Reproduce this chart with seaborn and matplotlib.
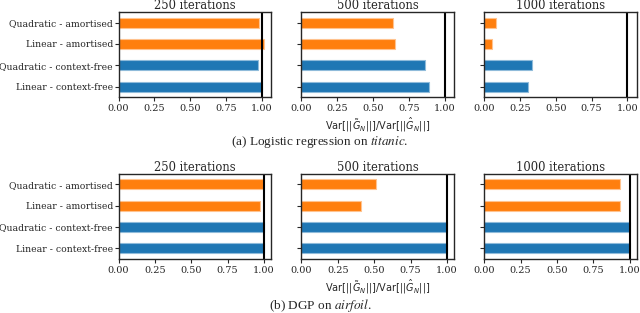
import matplotlib
matplotlib.use("Agg")
import matplotlib.pyplot as plt
import numpy as np
import pandas as pd
import seaborn as sns

methods = [
    "Quadratic - amortised",
    "Linear - amortised",
    "Quadratic - context-free",
    "Linear - context-free",
]
iterations = ["250 iterations", "500 iterations", "1000 iterations"]

# (a) logistic regression on titanic, one list per panel (top to bottom)
titanic_250 = [0.98, 1.016, 0.974, 1.0]
titanic_500 = [0.64, 0.657, 0.865, 0.888]
titanic_1000 = [0.084, 0.058, 0.337, 0.304]

# (b) DGP on airfoil
airfoil_250 = [0.993, 0.97, 1.0, 1.0]
airfoil_500 = [0.515, 0.41, 1.0, 1.0]
airfoil_1000 = [0.936, 0.93, 1.0, 1.0]

captions = ["(a) Logistic regression on ", "(b) DGP on "]
datasets = ["titanic", "airfoil"]
xticks = [0.0, 0.25, 0.5, 0.75, 1.0]

BLUE = "#1f77b4"
ORANGE = "#ff7f0e"
palette = {
    methods[0]: ORANGE,
    methods[1]: ORANGE,
    methods[2]: BLUE,
    methods[3]: BLUE,
}
edge_palette = ["#ffc38f", "#ffc38f", "#8fbbda", "#8fbbda"]

sns.set_style("ticks")
plt.rcParams["font.family"] = ["DejaVu Serif"]
plt.rcParams["axes.linewidth"] = 1.0

rows = [
    [titanic_250, titanic_500, titanic_1000],
    [airfoil_250, airfoil_500, airfoil_1000],
]
row_xmax = [1.067, 1.05]

fig, axes = plt.subplots(2, 3, figsize=(6.4, 3.13), dpi=100)
fig.subplots_adjust(left=118.5 / 640, right=637 / 640, top=1 - 12 / 313,
                    bottom=1 - 259 / 313, wspace=0.196, hspace=0.9)

for r, row in enumerate(rows):
    for c, values in enumerate(row):
        ax = axes[r, c]
        df = pd.DataFrame({"method": methods, "ratio": values})
        sns.barplot(data=df, x="ratio", y="method", hue="method", order=methods,
                    hue_order=methods, palette=palette, legend=False, width=0.47,
                    orient="h", ax=ax, linewidth=0.8, saturation=1)
        for patch, ec in zip(ax.patches, edge_palette):
            patch.set_edgecolor(ec)
        ax.axvline(1.0, color="black", lw=1.5)
        ax.set_xlim(0, row_xmax[r])
        ax.set_xticks(xticks)
        ax.set_xticklabels([f"{t:.2f}" for t in xticks], fontsize=7)
        ax.set_ylabel("")
        ax.set_xlabel("")
        ax.set_title(iterations[c], fontsize=8.3, pad=1)
        ax.tick_params(axis="y", labelsize=6.7, length=3, pad=1)
        ax.tick_params(axis="x", length=3, pad=2)
        if c > 0:
            ax.set_yticklabels([])
        if c == 1:
            ax.set_xlabel(r"Var[$||\tilde{G}_N||$]/Var[$||\hat{G}_N||$]",
                          fontsize=7, family="DejaVu Sans", labelpad=2)

for r, (cap, name) in enumerate(zip(captions, datasets)):
    y = 1 - (142 if r == 0 else 305) / 313
    fig.text(0.5, y, cap + r"$\mathit{" + name + r"}$.", ha="center", va="center",
             fontsize=9.5, family="Liberation Serif", math_fontfamily="stix")

fig.savefig("out.png", dpi=100)
